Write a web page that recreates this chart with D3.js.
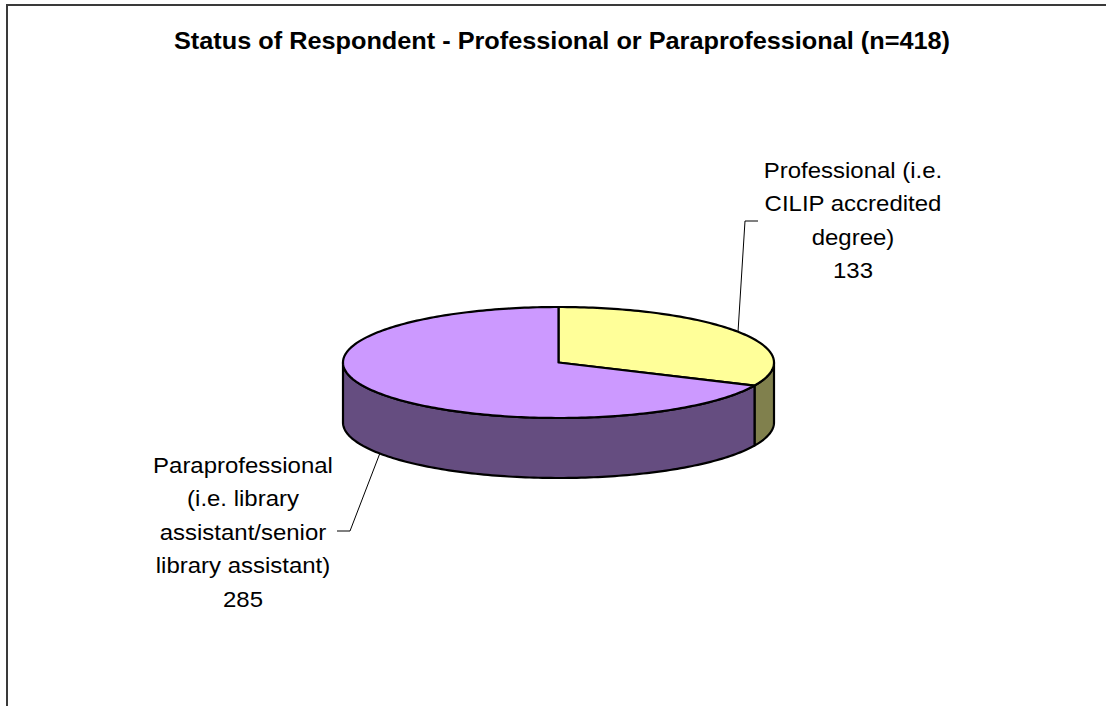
<!DOCTYPE html>
<html>
<head>
<meta charset="utf-8">
<script src="https://cdn.jsdelivr.net/npm/d3@7"></script>
<style>
  body { margin: 0; background: #fff; }
  text { font-family: Arial, "Liberation Sans", sans-serif; }
</style>
</head>
<body>
<script>
var width = 1106,
    height = 706;

// data
var categories = ["Professional (i.e. CILIP accredited degree)",
                  "Paraprofessional (i.e. library assistant/senior library assistant)"];
var values = [133, 285];
var labelLines = [
    ["Professional (i.e.", "CILIP accredited", "degree)", "133"],
    ["Paraprofessional", "(i.e. library", "assistant/senior", "library assistant)", "285"]
];
var topColors = ["#FFFF99", "#CC99FF"];
var sideColors = ["#80804D", "#654D80"];
var title = "Status of Respondent - Professional or Paraprofessional (n=418)";

// pie geometry (ellipse seen from above at an angle)
var cx = 558.5, cy = 362.5, rx = 215.5, ry = 55.5, depth = 60;

// label layout: center x, first baseline, leader line
var labelLayout = [
    {x: 853, y: 178, lead: [[758, 221], [745, 221], [738, 332]]},
    {x: 243, y: 473, lead: [[337, 531], [350, 531], [380, 453]]}
];
var lineStep = 33.4;

var svg = d3.select("body").append("svg")
    .attr("width", width)
    .attr("height", height);

svg.append("rect")
    .attr("x", 7).attr("y", 5)
    .attr("width", 1200).attr("height", 900)
    .attr("fill", "#fff")
    .attr("stroke", "#3a3a3a")
    .attr("stroke-width", 2);

var pie = d3.pie().sort(null).startAngle(0).endAngle(2 * Math.PI);
var arcs = pie(values);

var pt = (a, dy) => [cx + rx * Math.sin(a), cy - ry * Math.cos(a) + (dy || 0)];
var line = d3.line();

function samples(a0, a1) {
    var n = Math.max(2, Math.ceil((a1 - a0) / 0.02));
    return d3.range(n + 1).map(i => a0 + (a1 - a0) * i / n);
}

// side walls (front half only: angles between PI/2 and 3PI/2)
arcs.forEach((d, i) => {
    var a0 = Math.max(d.startAngle, Math.PI / 2),
        a1 = Math.min(d.endAngle, 3 * Math.PI / 2);
    if (a1 <= a0) return;
    var s = samples(a0, a1);
    var pts = s.map(a => pt(a, 0)).concat(s.slice().reverse().map(a => pt(a, depth)));
    svg.append("path")
        .attr("d", line(pts) + "Z")
        .attr("fill", sideColors[i])
        .attr("stroke", "#000")
        .attr("stroke-width", 2.2)
        .attr("stroke-linejoin", "round");
});

// top faces
arcs.forEach((d, i) => {
    var pts = [[cx, cy]].concat(samples(d.startAngle, d.endAngle).map(a => pt(a, 0)));
    svg.append("path")
        .attr("d", line(pts) + "Z")
        .attr("fill", topColors[i])
        .attr("stroke", "#000")
        .attr("stroke-width", 2.2)
        .attr("stroke-linejoin", "round");
});

// title
svg.append("text")
    .attr("transform", "translate(562,49) scale(1.1,1)")
    .attr("text-anchor", "middle")
    .attr("font-size", 23)
    .attr("font-weight", "bold")
    .text(title);

// labels with leader lines
arcs.forEach((d, i) => {
    var L = labelLayout[i];
    svg.append("path")
        .attr("d", line(L.lead))
        .attr("fill", "none")
        .attr("stroke", "#000")
        .attr("stroke-width", 1);
    var g = svg.append("text")
        .attr("transform", "translate(" + L.x + "," + L.y + ") scale(1.09,1)")
        .attr("text-anchor", "middle")
        .attr("font-size", 22)
        .attr("fill", "#000");
    labelLines[i].forEach((t, k) => {
        g.append("tspan").attr("x", 0).attr("y", k * lineStep).text(t);
    });
});
</script>
</body>
</html>
